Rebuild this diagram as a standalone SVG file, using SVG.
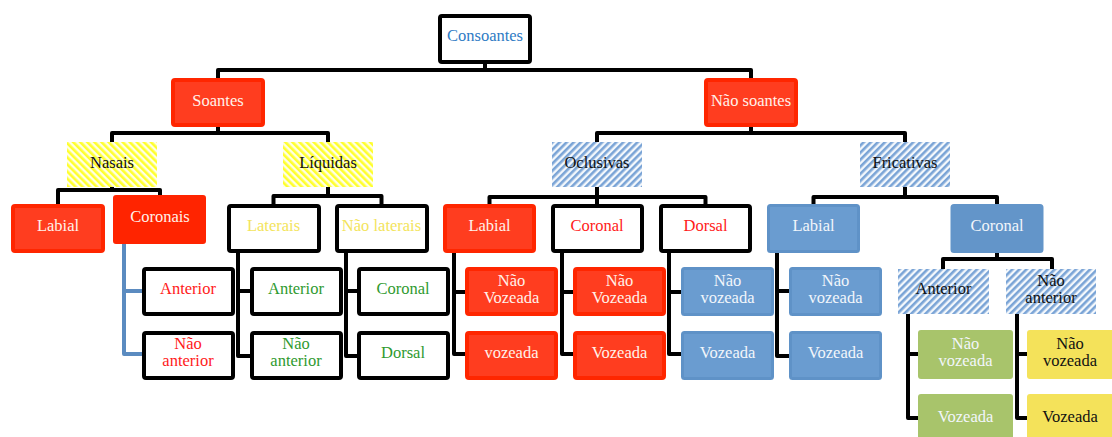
<svg xmlns="http://www.w3.org/2000/svg" width="1112" height="437" viewBox="0 0 1112 437">
<defs>
<pattern id="hy" width="5" height="5" patternUnits="userSpaceOnUse" patternTransform="rotate(-45)">
<rect width="5" height="5" fill="#FFFFE6"/>
<rect width="2.6" height="5" fill="#FFFF2E"/>
</pattern>
<pattern id="hb" width="5" height="5" patternUnits="userSpaceOnUse" patternTransform="rotate(45)">
<rect width="5" height="5" fill="#F4F8FC"/>
<rect width="2.6" height="5" fill="#7AA4D6"/>
</pattern>
<style>
text{font-family:"Liberation Serif","DejaVu Serif",serif;font-size:16.5px;text-anchor:middle}
.wb{fill:#fff;stroke:#000;stroke-width:4}
.rd{fill:#FF3D1F;stroke:#FF2600;stroke-width:4}
.rs{fill:#FF2400;stroke:#FF2400;stroke-width:2}
.bl{fill:#6A9CD0;stroke:#5F92C7;stroke-width:3}
.gr{fill:#A8C46B}
.ye{fill:#F4E25A}
.hy{fill:url(#hy)}
.hb{fill:url(#hb)}
.tw{fill:#FFF1EA}
.tb{fill:#F2F6FB}
.tr{fill:#FF1A1A}
.tg{fill:#2F9A2F}
.tyl{fill:#F3E45C}
.tk{fill:#111}
.tc{fill:#2E7BC4}
.cn{fill:none;stroke:#000;stroke-width:4;stroke-linejoin:round}
.cb{fill:none;stroke:#5B8BC0;stroke-width:4;stroke-linejoin:round}
</style>
</defs>
<g id="connectors">
<path class="cn" d="M218,79 V70 H751 V79 M485,63 V70"/>
<path class="cn" d="M112,143 V133 H328 V143 M218,126 V133"/>
<path class="cn" d="M597,143 V133 H905 V143 M751,126 V133"/>
<path class="cn" d="M58,205 V190 H160 V197 M112,186 V190"/>
<path class="cn" d="M273.5,205 V196 H381.5 V205 M328,186 V196"/>
<path class="cn" d="M489.5,205 V197 H705.5 V205 M597,186 V205"/>
<path class="cn" d="M813.5,205 V197 H997 V205 M905,186 V197"/>
<path class="cb" d="M124,243 V354 H143 M124,291 H143"/>
<path class="cn" d="M238,251 V356 H251 M238,291 H251"/>
<path class="cn" d="M346,251 V356 H358 M346,291 H358"/>
<path class="cn" d="M454,251 V354 H466 M454,292 H466"/>
<path class="cn" d="M562,251 V354 H574 M562,292 H574"/>
<path class="cn" d="M669,251 V354 H682 M669,292 H682"/>
<path class="cn" d="M777,251 V356 H790 M777,291 H790"/>
<path class="cn" d="M943,270 V259 H1052 V270 M997,251 V259"/>
<path class="cn" d="M908,313 V418 H919 M908,354 H919"/>
<path class="cn" d="M1017,313 V418 H1028 M1017,354 H1028"/>
</g>
<g id="consoantes"><rect class="wb" x="440" y="16" width="90" height="46" rx="2"/><text class="tc" x="485" y="41">Consoantes</text></g>
<g id="soantes"><rect class="rd" x="173" y="80" width="90" height="45" rx="2"/><text class="tw" x="218" y="106">Soantes</text></g>
<g id="nao-soantes"><rect class="rd" x="706" y="80" width="90" height="45" rx="2"/><text class="tw" x="751" y="106">Não soantes</text></g>
<g id="nasais"><rect class="hy" x="67" y="142" width="90" height="45"/><text class="tk" x="112" y="168">Nasais</text></g>
<g id="liquidas"><rect class="hy" x="283" y="142" width="90" height="45"/><text class="tk" x="328" y="168">Líquidas</text></g>
<g id="oclusivas"><rect class="hb" x="552" y="142" width="90" height="45"/><text class="tk" x="597" y="168">Oclusivas</text></g>
<g id="fricativas"><rect class="hb" x="860" y="142" width="90" height="45"/><text class="tk" x="905" y="168">Fricativas</text></g>
<g id="labial-nasal"><rect class="rd" x="13" y="206" width="90" height="45" rx="2"/><text class="tw" x="58" y="231">Labial</text></g>
<g id="coronais"><rect class="rs" x="114" y="196" width="91" height="47" rx="2"/><text class="tw" x="160" y="222">Coronais</text></g>
<g id="anterior-r"><rect class="wb" x="144" y="269" width="89" height="45" rx="2"/><text class="tr" x="188" y="294">Anterior</text></g>
<g id="nao-anterior-r"><rect class="wb" x="144" y="333" width="89" height="45" rx="2"/><text class="tr" x="188" y="349">Não</text><text class="tr" x="188" y="366">anterior</text></g>
<g id="laterais"><rect class="wb" x="229" y="206" width="90" height="45" rx="2"/><text class="tyl" x="273.5" y="231">Laterais</text></g>
<g id="nao-laterais"><rect class="wb" x="337" y="206" width="90" height="45" rx="2"/><text class="tyl" x="381.5" y="231">Não laterais</text></g>
<g id="anterior-g"><rect class="wb" x="252" y="269" width="89" height="45" rx="2"/><text class="tg" x="296" y="294">Anterior</text></g>
<g id="nao-anterior-g"><rect class="wb" x="252" y="333" width="89" height="45" rx="2"/><text class="tg" x="296" y="349">Não</text><text class="tg" x="296" y="366">anterior</text></g>
<g id="coronal-g"><rect class="wb" x="359" y="269" width="89" height="45" rx="2"/><text class="tg" x="403" y="294">Coronal</text></g>
<g id="dorsal-g"><rect class="wb" x="359" y="333" width="89" height="45" rx="2"/><text class="tg" x="403" y="358">Dorsal</text></g>
<g id="labial-ocl"><rect class="rd" x="445" y="206" width="89" height="45" rx="2"/><text class="tw" x="489.5" y="231">Labial</text></g>
<g id="coronal-ocl"><rect class="wb" x="553" y="206" width="89" height="45" rx="2"/><text class="tr" x="597" y="231">Coronal</text></g>
<g id="dorsal-ocl"><rect class="wb" x="661" y="206" width="89" height="45" rx="2"/><text class="tr" x="705.5" y="231">Dorsal</text></g>
<g id="lab-nv"><rect class="rd" x="467" y="269" width="89" height="45" rx="2"/><text class="tw" x="511.5" y="286">Não</text><text class="tw" x="511.5" y="303">Vozeada</text></g>
<g id="lab-v"><rect class="rd" x="467" y="333" width="89" height="45" rx="2"/><text class="tw" x="511.5" y="358">vozeada</text></g>
<g id="cor-nv"><rect class="rd" x="575" y="269" width="89" height="45" rx="2"/><text class="tw" x="619.5" y="286">Não</text><text class="tw" x="619.5" y="303">Vozeada</text></g>
<g id="cor-v"><rect class="rd" x="575" y="333" width="89" height="45" rx="2"/><text class="tw" x="619.5" y="358">Vozeada</text></g>
<g id="dor-nv"><rect class="bl" x="682.5" y="268.5" width="90" height="46" rx="2"/><text class="tb" x="727.5" y="286">Não</text><text class="tb" x="727.5" y="303">vozeada</text></g>
<g id="dor-v"><rect class="bl" x="682.5" y="332.5" width="90" height="46" rx="2"/><text class="tb" x="727.5" y="358">Vozeada</text></g>
<g id="labial-fric"><rect class="bl" x="768.5" y="205.5" width="90" height="46" rx="2"/><text class="tb" x="813.5" y="231">Labial</text></g>
<g id="fl-nv"><rect class="bl" x="790.5" y="268.5" width="90" height="46" rx="2"/><text class="tb" x="835.5" y="286">Não</text><text class="tb" x="835.5" y="303">vozeada</text></g>
<g id="fl-v"><rect class="bl" x="790.5" y="332.5" width="90" height="46" rx="2"/><text class="tb" x="835.5" y="358">Vozeada</text></g>
<g id="coronal-fric"><rect class="bl" x="952" y="205.5" width="90" height="46" rx="2" style="fill:#6395C9;stroke:#6395C9"/><text class="tb" x="997" y="231">Coronal</text></g>
<g id="anterior-h"><rect class="hb" x="898" y="269" width="91" height="45"/><text class="tk" x="943.5" y="294">Anterior</text></g>
<g id="nao-anterior-h"><rect class="hb" x="1006" y="269" width="90" height="45"/><text class="tk" x="1051" y="286">Não</text><text class="tk" x="1051" y="303">anterior</text></g>
<g id="fa-nv"><rect class="gr" x="918" y="330" width="95" height="49" rx="3"/><text class="tb" x="965.5" y="349">Não</text><text class="tb" x="965.5" y="366">vozeada</text></g>
<g id="fa-v"><rect class="gr" x="918" y="394" width="95" height="48" rx="3"/><text class="tb" x="965.5" y="422">Vozeada</text></g>
<g id="fn-nv"><rect class="ye" x="1027" y="330" width="95" height="49" rx="3"/><text class="tk" x="1070" y="349">Não</text><text class="tk" x="1070" y="366">vozeada</text></g>
<g id="fn-v"><rect class="ye" x="1027" y="394" width="95" height="48" rx="3"/><text class="tk" x="1070" y="422">Vozeada</text></g>
</svg>
